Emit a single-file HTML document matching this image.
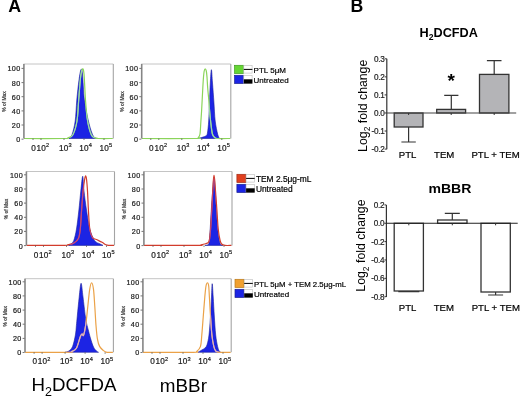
<!DOCTYPE html>
<html><head><meta charset="utf-8"><style>
html,body{margin:0;padding:0;background:#fff;width:520px;height:400px;overflow:hidden;position:relative}
</style></head><body>
<svg width="520" height="400" viewBox="0 0 520 400" style="position:absolute;left:0;top:0;will-change:transform">
<g font-family='"Liberation Sans", sans-serif'>
<text x="8.2" y="12.1" font-size="17.8" font-weight="bold" text-anchor="start" fill="#000" >A</text>
<text x="350.6" y="12.2" font-size="17.7" font-weight="bold" text-anchor="start" fill="#000" >B</text>
<clipPath id="c1"><path d="M69.00,138.50 C69.50,137.87 70.97,137.62 72.00,134.70 C73.03,131.78 74.40,126.78 75.20,121.00 C76.00,115.22 76.17,106.83 76.80,100.00 C77.43,93.17 78.30,85.08 79.00,80.00 C79.70,74.92 80.42,70.50 81.00,69.50 C81.58,68.50 81.93,68.92 82.50,74.00 C83.07,79.08 83.42,92.17 84.40,100.00 C85.38,107.83 87.03,115.22 88.40,121.00 C89.77,126.78 91.33,131.78 92.60,134.70 C93.87,137.62 95.43,137.87 96.00,138.50 Z"/></clipPath>
<path d="M69.00,138.50 C69.50,137.87 70.97,137.62 72.00,134.70 C73.03,131.78 74.40,126.78 75.20,121.00 C76.00,115.22 76.17,106.83 76.80,100.00 C77.43,93.17 78.30,85.08 79.00,80.00 C79.70,74.92 80.42,70.50 81.00,69.50 C81.58,68.50 81.93,68.92 82.50,74.00 C83.07,79.08 83.42,92.17 84.40,100.00 C85.38,107.83 87.03,115.22 88.40,121.00 C89.77,126.78 91.33,131.78 92.60,134.70 C93.87,137.62 95.43,137.87 96.00,138.50 Z" fill="#1c24e4" stroke="#1a1f9a" stroke-width="0.6"/>
<path d="M24.00,138.50 C30.67,138.50 56.67,138.62 64.00,138.50 C71.33,138.38 66.52,138.43 68.00,137.80 C69.48,137.17 71.40,137.50 72.90,134.70 C74.40,131.90 76.03,126.78 77.00,121.00 C77.97,115.22 78.12,107.17 78.70,100.00 C79.28,92.83 79.88,83.17 80.50,78.00 C81.12,72.83 81.82,69.67 82.40,69.00 C82.98,68.33 83.48,68.83 84.00,74.00 C84.52,79.17 84.90,92.17 85.50,100.00 C86.10,107.83 86.63,115.22 87.60,121.00 C88.57,126.78 90.07,131.90 91.30,134.70 C92.53,137.50 93.72,137.17 95.00,137.80 C96.28,138.43 96.03,138.38 99.00,138.50 C101.97,138.62 110.50,138.50 112.80,138.50" fill="none" stroke="#8bd45a" stroke-width="1.2" stroke-linejoin="round"/>
<path d="M24.00,138.50 C30.67,138.50 56.67,138.62 64.00,138.50 C71.33,138.38 66.52,138.43 68.00,137.80 C69.48,137.17 71.40,137.50 72.90,134.70 C74.40,131.90 76.03,126.78 77.00,121.00 C77.97,115.22 78.12,107.17 78.70,100.00 C79.28,92.83 79.88,83.17 80.50,78.00 C81.12,72.83 81.82,69.67 82.40,69.00 C82.98,68.33 83.48,68.83 84.00,74.00 C84.52,79.17 84.90,92.17 85.50,100.00 C86.10,107.83 86.63,115.22 87.60,121.00 C88.57,126.78 90.07,131.90 91.30,134.70 C92.53,137.50 93.72,137.17 95.00,137.80 C96.28,138.43 96.03,138.38 99.00,138.50 C101.97,138.62 110.50,138.50 112.80,138.50" fill="none" stroke="#9ad8b0" stroke-width="1.2" stroke-linejoin="round" clip-path="url(#c1)"/>
<path d="M23.5,64H113.3" fill="none" stroke="#c4c4c4" stroke-width="1"/>
<path d="M113.3,64V138.5" fill="none" stroke="#a4a4a4" stroke-width="1.1"/>
<path d="M23.9,64V138.5" fill="none" stroke="#858585" stroke-width="1.6"/>
<path d="M21.5,68.4H23.5" stroke="#555" stroke-width="0.8"/>
<text x="20.5" y="71.3" font-size="7.2" font-weight="normal" text-anchor="end" fill="#1a1a1a" letter-spacing="0.35" stroke="#1a1a1a" stroke-width="0.2">100</text>
<path d="M21.5,82.6H23.5" stroke="#555" stroke-width="0.8"/>
<text x="20.5" y="85.5" font-size="7.2" font-weight="normal" text-anchor="end" fill="#1a1a1a" letter-spacing="0.35" stroke="#1a1a1a" stroke-width="0.2">80</text>
<path d="M21.5,96.7H23.5" stroke="#555" stroke-width="0.8"/>
<text x="20.5" y="99.6" font-size="7.2" font-weight="normal" text-anchor="end" fill="#1a1a1a" letter-spacing="0.35" stroke="#1a1a1a" stroke-width="0.2">60</text>
<path d="M21.5,110.9H23.5" stroke="#555" stroke-width="0.8"/>
<text x="20.5" y="113.8" font-size="7.2" font-weight="normal" text-anchor="end" fill="#1a1a1a" letter-spacing="0.35" stroke="#1a1a1a" stroke-width="0.2">40</text>
<path d="M21.5,125.0H23.5" stroke="#555" stroke-width="0.8"/>
<text x="20.5" y="127.9" font-size="7.2" font-weight="normal" text-anchor="end" fill="#1a1a1a" letter-spacing="0.35" stroke="#1a1a1a" stroke-width="0.2">20</text>
<path d="M21.5,139.2H23.5" stroke="#555" stroke-width="0.8"/>
<text x="20.5" y="142.1" font-size="7.2" font-weight="normal" text-anchor="end" fill="#1a1a1a" letter-spacing="0.35" stroke="#1a1a1a" stroke-width="0.2">0</text>
<text x="0" y="0" font-size="5.6" fill="#333" stroke="#333" stroke-width="0.2" text-anchor="middle" textLength="20.4" lengthAdjust="spacingAndGlyphs" transform="translate(5.8,101.5) rotate(-90)">% of Max</text>
<text x="31.3" y="150.6" font-size="8.2" font-weight="normal" text-anchor="start" fill="#1a1a1a"  stroke="#1a1a1a" stroke-width="0.2">0</text>
<text x="36.6" y="150.6" font-size="8.2" font-weight="normal" text-anchor="start" fill="#1a1a1a" letter-spacing="0.2" stroke="#1a1a1a" stroke-width="0.2">10</text>
<text x="46.1" y="147.2" font-size="5.6" font-weight="normal" text-anchor="start" fill="#1a1a1a"  stroke="#1a1a1a" stroke-width="0.2">2</text>
<text x="59.0" y="150.6" font-size="8.2" font-weight="normal" text-anchor="start" fill="#1a1a1a" letter-spacing="0.2" stroke="#1a1a1a" stroke-width="0.2">10</text>
<text x="68.5" y="147.2" font-size="5.6" font-weight="normal" text-anchor="start" fill="#1a1a1a"  stroke="#1a1a1a" stroke-width="0.2">3</text>
<text x="79.2" y="150.6" font-size="8.2" font-weight="normal" text-anchor="start" fill="#1a1a1a" letter-spacing="0.2" stroke="#1a1a1a" stroke-width="0.2">10</text>
<text x="88.7" y="147.2" font-size="5.6" font-weight="normal" text-anchor="start" fill="#1a1a1a"  stroke="#1a1a1a" stroke-width="0.2">4</text>
<text x="99.4" y="150.6" font-size="8.2" font-weight="normal" text-anchor="start" fill="#1a1a1a" letter-spacing="0.2" stroke="#1a1a1a" stroke-width="0.2">10</text>
<text x="108.9" y="147.2" font-size="5.6" font-weight="normal" text-anchor="start" fill="#1a1a1a"  stroke="#1a1a1a" stroke-width="0.2">5</text>
<path d="M33.0,138.5v1.5" stroke="#555" stroke-width="0.8"/>
<path d="M41.0,138.5v1.5" stroke="#555" stroke-width="0.8"/>
<path d="M64.0,138.5v1.5" stroke="#555" stroke-width="0.8"/>
<path d="M84.0,138.5v1.5" stroke="#555" stroke-width="0.8"/>
<path d="M104.0,138.5v1.5" stroke="#555" stroke-width="0.8"/>
<clipPath id="c2"><path d="M198.00,138.50 C198.33,138.40 199.17,138.13 200.00,137.90 C200.83,137.67 202.00,137.45 203.00,137.10 C204.00,136.75 205.27,136.45 206.00,135.80 C206.73,135.15 206.95,135.67 207.40,133.20 C207.85,130.73 208.35,126.20 208.70,121.00 C209.05,115.80 209.23,108.33 209.50,102.00 C209.77,95.67 209.98,88.38 210.30,83.00 C210.62,77.62 211.03,69.70 211.40,69.70 C211.77,69.70 212.08,77.62 212.50,83.00 C212.92,88.38 213.45,95.67 213.90,102.00 C214.35,108.33 214.57,115.62 215.20,121.00 C215.83,126.38 216.98,131.38 217.70,134.30 C218.42,137.22 219.20,137.80 219.50,138.50 Z"/></clipPath>
<path d="M198.00,138.50 C198.33,138.40 199.17,138.13 200.00,137.90 C200.83,137.67 202.00,137.45 203.00,137.10 C204.00,136.75 205.27,136.45 206.00,135.80 C206.73,135.15 206.95,135.67 207.40,133.20 C207.85,130.73 208.35,126.20 208.70,121.00 C209.05,115.80 209.23,108.33 209.50,102.00 C209.77,95.67 209.98,88.38 210.30,83.00 C210.62,77.62 211.03,69.70 211.40,69.70 C211.77,69.70 212.08,77.62 212.50,83.00 C212.92,88.38 213.45,95.67 213.90,102.00 C214.35,108.33 214.57,115.62 215.20,121.00 C215.83,126.38 216.98,131.38 217.70,134.30 C218.42,137.22 219.20,137.80 219.50,138.50 Z" fill="#1c24e4" stroke="#1a1f9a" stroke-width="0.6"/>
<path d="M141.80,138.50 C150.75,138.50 186.10,138.65 195.50,138.50 C204.90,138.35 197.45,138.35 198.20,137.60 C198.95,136.85 199.55,136.77 200.00,134.00 C200.45,131.23 200.63,124.87 200.90,121.00 C201.17,117.13 201.28,116.30 201.60,110.80 C201.92,105.30 202.48,93.63 202.80,88.00 C203.12,82.37 203.27,79.83 203.50,77.00 C203.73,74.17 203.92,72.37 204.20,71.00 C204.48,69.63 204.85,68.80 205.20,68.80 C205.55,68.80 206.00,69.63 206.30,71.00 C206.60,72.37 206.77,74.17 207.00,77.00 C207.23,79.83 207.40,84.17 207.70,88.00 C208.00,91.83 208.48,96.20 208.80,100.00 C209.12,103.80 209.30,107.30 209.60,110.80 C209.90,114.30 210.13,117.13 210.60,121.00 C211.07,124.87 211.67,131.23 212.40,134.00 C213.13,136.77 214.15,136.85 215.00,137.60 C215.85,138.35 214.95,138.35 217.50,138.50 C220.05,138.65 228.17,138.50 230.30,138.50" fill="none" stroke="#8bd45a" stroke-width="1.2" stroke-linejoin="round"/>
<path d="M141.80,138.50 C150.75,138.50 186.10,138.65 195.50,138.50 C204.90,138.35 197.45,138.35 198.20,137.60 C198.95,136.85 199.55,136.77 200.00,134.00 C200.45,131.23 200.63,124.87 200.90,121.00 C201.17,117.13 201.28,116.30 201.60,110.80 C201.92,105.30 202.48,93.63 202.80,88.00 C203.12,82.37 203.27,79.83 203.50,77.00 C203.73,74.17 203.92,72.37 204.20,71.00 C204.48,69.63 204.85,68.80 205.20,68.80 C205.55,68.80 206.00,69.63 206.30,71.00 C206.60,72.37 206.77,74.17 207.00,77.00 C207.23,79.83 207.40,84.17 207.70,88.00 C208.00,91.83 208.48,96.20 208.80,100.00 C209.12,103.80 209.30,107.30 209.60,110.80 C209.90,114.30 210.13,117.13 210.60,121.00 C211.07,124.87 211.67,131.23 212.40,134.00 C213.13,136.77 214.15,136.85 215.00,137.60 C215.85,138.35 214.95,138.35 217.50,138.50 C220.05,138.65 228.17,138.50 230.30,138.50" fill="none" stroke="#9ad8b0" stroke-width="1.2" stroke-linejoin="round" clip-path="url(#c2)"/>
<path d="M141.3,64H230.8" fill="none" stroke="#c4c4c4" stroke-width="1"/>
<path d="M230.8,64V138.5" fill="none" stroke="#a4a4a4" stroke-width="1.1"/>
<path d="M141.70000000000002,64V138.5" fill="none" stroke="#858585" stroke-width="1.6"/>
<path d="M139.3,68.4H141.3" stroke="#555" stroke-width="0.8"/>
<text x="138.3" y="71.3" font-size="7.2" font-weight="normal" text-anchor="end" fill="#1a1a1a" letter-spacing="0.35" stroke="#1a1a1a" stroke-width="0.2">100</text>
<path d="M139.3,82.6H141.3" stroke="#555" stroke-width="0.8"/>
<text x="138.3" y="85.5" font-size="7.2" font-weight="normal" text-anchor="end" fill="#1a1a1a" letter-spacing="0.35" stroke="#1a1a1a" stroke-width="0.2">80</text>
<path d="M139.3,96.7H141.3" stroke="#555" stroke-width="0.8"/>
<text x="138.3" y="99.6" font-size="7.2" font-weight="normal" text-anchor="end" fill="#1a1a1a" letter-spacing="0.35" stroke="#1a1a1a" stroke-width="0.2">60</text>
<path d="M139.3,110.9H141.3" stroke="#555" stroke-width="0.8"/>
<text x="138.3" y="113.8" font-size="7.2" font-weight="normal" text-anchor="end" fill="#1a1a1a" letter-spacing="0.35" stroke="#1a1a1a" stroke-width="0.2">40</text>
<path d="M139.3,125.0H141.3" stroke="#555" stroke-width="0.8"/>
<text x="138.3" y="127.9" font-size="7.2" font-weight="normal" text-anchor="end" fill="#1a1a1a" letter-spacing="0.35" stroke="#1a1a1a" stroke-width="0.2">20</text>
<path d="M139.3,139.2H141.3" stroke="#555" stroke-width="0.8"/>
<text x="138.3" y="142.1" font-size="7.2" font-weight="normal" text-anchor="end" fill="#1a1a1a" letter-spacing="0.35" stroke="#1a1a1a" stroke-width="0.2">0</text>
<text x="0" y="0" font-size="5.6" fill="#333" stroke="#333" stroke-width="0.2" text-anchor="middle" textLength="20.4" lengthAdjust="spacingAndGlyphs" transform="translate(123.6,101.5) rotate(-90)">% of Max</text>
<text x="149.1" y="150.6" font-size="8.2" font-weight="normal" text-anchor="start" fill="#1a1a1a"  stroke="#1a1a1a" stroke-width="0.2">0</text>
<text x="154.4" y="150.6" font-size="8.2" font-weight="normal" text-anchor="start" fill="#1a1a1a" letter-spacing="0.2" stroke="#1a1a1a" stroke-width="0.2">10</text>
<text x="163.9" y="147.2" font-size="5.6" font-weight="normal" text-anchor="start" fill="#1a1a1a"  stroke="#1a1a1a" stroke-width="0.2">2</text>
<text x="176.8" y="150.6" font-size="8.2" font-weight="normal" text-anchor="start" fill="#1a1a1a" letter-spacing="0.2" stroke="#1a1a1a" stroke-width="0.2">10</text>
<text x="186.3" y="147.2" font-size="5.6" font-weight="normal" text-anchor="start" fill="#1a1a1a"  stroke="#1a1a1a" stroke-width="0.2">3</text>
<text x="197.0" y="150.6" font-size="8.2" font-weight="normal" text-anchor="start" fill="#1a1a1a" letter-spacing="0.2" stroke="#1a1a1a" stroke-width="0.2">10</text>
<text x="206.5" y="147.2" font-size="5.6" font-weight="normal" text-anchor="start" fill="#1a1a1a"  stroke="#1a1a1a" stroke-width="0.2">4</text>
<text x="217.2" y="150.6" font-size="8.2" font-weight="normal" text-anchor="start" fill="#1a1a1a" letter-spacing="0.2" stroke="#1a1a1a" stroke-width="0.2">10</text>
<text x="226.7" y="147.2" font-size="5.6" font-weight="normal" text-anchor="start" fill="#1a1a1a"  stroke="#1a1a1a" stroke-width="0.2">5</text>
<path d="M150.8,138.5v1.5" stroke="#555" stroke-width="0.8"/>
<path d="M158.8,138.5v1.5" stroke="#555" stroke-width="0.8"/>
<path d="M181.8,138.5v1.5" stroke="#555" stroke-width="0.8"/>
<path d="M201.8,138.5v1.5" stroke="#555" stroke-width="0.8"/>
<path d="M221.8,138.5v1.5" stroke="#555" stroke-width="0.8"/>
<rect x="234.60000000000002" y="65.3" width="9" height="8.2" fill="#66d634" stroke="#3c9a1e" stroke-width="0.7"/>
<rect x="243.8" y="65.5" width="8.3" height="7.6" fill="#fff" stroke="#bbb" stroke-width="0.6"/>
<path d="M243.8,69.4h8.6" stroke="#000" stroke-width="1"/>
<rect x="234.60000000000002" y="75.3" width="9" height="8.2" fill="#1c24e4" stroke="#1a2290" stroke-width="0.7"/>
<rect x="243.8" y="75.5" width="8.3" height="7.6" fill="#fff" stroke="#bbb" stroke-width="0.6"/>
<rect x="243.8" y="79.3" width="8.6" height="4.3" fill="#000"/>
<text x="253.6" y="72.6" font-size="8" font-weight="normal" text-anchor="start" fill="#000"  stroke="#000" stroke-width="0.2">PTL 5μM</text>
<text x="253.6" y="82.8" font-size="8" font-weight="normal" text-anchor="start" fill="#000"  stroke="#000" stroke-width="0.2">Untreated</text>
<clipPath id="c3"><path d="M68.50,245.40 C68.92,245.17 70.12,244.83 71.00,244.00 C71.88,243.17 72.88,242.90 73.80,240.40 C74.72,237.90 75.65,234.07 76.50,229.00 C77.35,223.93 78.18,216.33 78.90,210.00 C79.62,203.67 80.17,196.63 80.80,191.00 C81.43,185.37 82.17,176.20 82.70,176.20 C83.23,176.20 83.37,185.37 84.00,191.00 C84.63,196.63 85.53,203.67 86.50,210.00 C87.47,216.33 88.47,223.93 89.80,229.00 C91.13,234.07 92.77,237.90 94.50,240.40 C96.23,242.90 98.78,243.17 100.20,244.00 C101.62,244.83 102.53,245.17 103.00,245.40 Z"/></clipPath>
<path d="M68.50,245.40 C68.92,245.17 70.12,244.83 71.00,244.00 C71.88,243.17 72.88,242.90 73.80,240.40 C74.72,237.90 75.65,234.07 76.50,229.00 C77.35,223.93 78.18,216.33 78.90,210.00 C79.62,203.67 80.17,196.63 80.80,191.00 C81.43,185.37 82.17,176.20 82.70,176.20 C83.23,176.20 83.37,185.37 84.00,191.00 C84.63,196.63 85.53,203.67 86.50,210.00 C87.47,216.33 88.47,223.93 89.80,229.00 C91.13,234.07 92.77,237.90 94.50,240.40 C96.23,242.90 98.78,243.17 100.20,244.00 C101.62,244.83 102.53,245.17 103.00,245.40 Z" fill="#1c24e4" stroke="#1a1f9a" stroke-width="0.6"/>
<path d="M26.50,245.40 C32.75,245.40 57.08,245.53 64.00,245.40 C70.92,245.27 66.40,244.95 68.00,244.60 C69.60,244.25 71.87,244.32 73.60,243.30 C75.33,242.28 77.28,240.88 78.40,238.50 C79.52,236.12 79.77,233.75 80.30,229.00 C80.83,224.25 81.13,216.33 81.60,210.00 C82.07,203.67 82.58,196.17 83.10,191.00 C83.62,185.83 84.28,181.53 84.70,179.00 C85.12,176.47 85.30,175.80 85.60,175.80 C85.90,175.80 86.18,176.47 86.50,179.00 C86.82,181.53 87.18,185.83 87.50,191.00 C87.82,196.17 88.02,203.67 88.40,210.00 C88.78,216.33 89.10,224.40 89.80,229.00 C90.50,233.60 91.50,235.85 92.60,237.60 C93.70,239.35 94.82,238.72 96.40,239.50 C97.98,240.28 100.50,241.42 102.10,242.30 C103.70,243.18 104.85,244.28 106.00,244.80 C107.15,245.32 107.67,245.30 109.00,245.40 C110.33,245.50 113.17,245.40 114.00,245.40" fill="none" stroke="#d23c2c" stroke-width="1.2" stroke-linejoin="round"/>
<path d="M26.50,245.40 C32.75,245.40 57.08,245.53 64.00,245.40 C70.92,245.27 66.40,244.95 68.00,244.60 C69.60,244.25 71.87,244.32 73.60,243.30 C75.33,242.28 77.28,240.88 78.40,238.50 C79.52,236.12 79.77,233.75 80.30,229.00 C80.83,224.25 81.13,216.33 81.60,210.00 C82.07,203.67 82.58,196.17 83.10,191.00 C83.62,185.83 84.28,181.53 84.70,179.00 C85.12,176.47 85.30,175.80 85.60,175.80 C85.90,175.80 86.18,176.47 86.50,179.00 C86.82,181.53 87.18,185.83 87.50,191.00 C87.82,196.17 88.02,203.67 88.40,210.00 C88.78,216.33 89.10,224.40 89.80,229.00 C90.50,233.60 91.50,235.85 92.60,237.60 C93.70,239.35 94.82,238.72 96.40,239.50 C97.98,240.28 100.50,241.42 102.10,242.30 C103.70,243.18 104.85,244.28 106.00,244.80 C107.15,245.32 107.67,245.30 109.00,245.40 C110.33,245.50 113.17,245.40 114.00,245.40" fill="none" stroke="#c04a8a" stroke-width="1.2" stroke-linejoin="round" clip-path="url(#c3)"/>
<path d="M26.0,171.5H114.5" fill="none" stroke="#c4c4c4" stroke-width="1"/>
<path d="M114.5,171.5V245.4" fill="none" stroke="#a4a4a4" stroke-width="1.1"/>
<path d="M26.4,171.5V245.4" fill="none" stroke="#858585" stroke-width="1.6"/>
<path d="M24.0,174.8H26.0" stroke="#555" stroke-width="0.8"/>
<text x="23.0" y="177.7" font-size="7.2" font-weight="normal" text-anchor="end" fill="#1a1a1a" letter-spacing="0.35" stroke="#1a1a1a" stroke-width="0.2">100</text>
<path d="M24.0,189.0H26.0" stroke="#555" stroke-width="0.8"/>
<text x="23.0" y="191.9" font-size="7.2" font-weight="normal" text-anchor="end" fill="#1a1a1a" letter-spacing="0.35" stroke="#1a1a1a" stroke-width="0.2">80</text>
<path d="M24.0,203.1H26.0" stroke="#555" stroke-width="0.8"/>
<text x="23.0" y="206.0" font-size="7.2" font-weight="normal" text-anchor="end" fill="#1a1a1a" letter-spacing="0.35" stroke="#1a1a1a" stroke-width="0.2">60</text>
<path d="M24.0,217.3H26.0" stroke="#555" stroke-width="0.8"/>
<text x="23.0" y="220.2" font-size="7.2" font-weight="normal" text-anchor="end" fill="#1a1a1a" letter-spacing="0.35" stroke="#1a1a1a" stroke-width="0.2">40</text>
<path d="M24.0,231.4H26.0" stroke="#555" stroke-width="0.8"/>
<text x="23.0" y="234.3" font-size="7.2" font-weight="normal" text-anchor="end" fill="#1a1a1a" letter-spacing="0.35" stroke="#1a1a1a" stroke-width="0.2">20</text>
<path d="M24.0,245.6H26.0" stroke="#555" stroke-width="0.8"/>
<text x="23.0" y="248.5" font-size="7.2" font-weight="normal" text-anchor="end" fill="#1a1a1a" letter-spacing="0.35" stroke="#1a1a1a" stroke-width="0.2">0</text>
<text x="0" y="0" font-size="5.6" fill="#333" stroke="#333" stroke-width="0.2" text-anchor="middle" textLength="20.4" lengthAdjust="spacingAndGlyphs" transform="translate(8.3,209.0) rotate(-90)">% of Max</text>
<text x="33.8" y="257.5" font-size="8.2" font-weight="normal" text-anchor="start" fill="#1a1a1a"  stroke="#1a1a1a" stroke-width="0.2">0</text>
<text x="39.1" y="257.5" font-size="8.2" font-weight="normal" text-anchor="start" fill="#1a1a1a" letter-spacing="0.2" stroke="#1a1a1a" stroke-width="0.2">10</text>
<text x="48.6" y="254.1" font-size="5.6" font-weight="normal" text-anchor="start" fill="#1a1a1a"  stroke="#1a1a1a" stroke-width="0.2">2</text>
<text x="61.5" y="257.5" font-size="8.2" font-weight="normal" text-anchor="start" fill="#1a1a1a" letter-spacing="0.2" stroke="#1a1a1a" stroke-width="0.2">10</text>
<text x="71.0" y="254.1" font-size="5.6" font-weight="normal" text-anchor="start" fill="#1a1a1a"  stroke="#1a1a1a" stroke-width="0.2">3</text>
<text x="81.7" y="257.5" font-size="8.2" font-weight="normal" text-anchor="start" fill="#1a1a1a" letter-spacing="0.2" stroke="#1a1a1a" stroke-width="0.2">10</text>
<text x="91.2" y="254.1" font-size="5.6" font-weight="normal" text-anchor="start" fill="#1a1a1a"  stroke="#1a1a1a" stroke-width="0.2">4</text>
<text x="101.9" y="257.5" font-size="8.2" font-weight="normal" text-anchor="start" fill="#1a1a1a" letter-spacing="0.2" stroke="#1a1a1a" stroke-width="0.2">10</text>
<text x="111.4" y="254.1" font-size="5.6" font-weight="normal" text-anchor="start" fill="#1a1a1a"  stroke="#1a1a1a" stroke-width="0.2">5</text>
<path d="M35.5,245.4v1.5" stroke="#555" stroke-width="0.8"/>
<path d="M43.5,245.4v1.5" stroke="#555" stroke-width="0.8"/>
<path d="M66.5,245.4v1.5" stroke="#555" stroke-width="0.8"/>
<path d="M86.5,245.4v1.5" stroke="#555" stroke-width="0.8"/>
<path d="M106.5,245.4v1.5" stroke="#555" stroke-width="0.8"/>
<clipPath id="c4"><path d="M205.00,245.40 C205.55,245.25 207.58,245.33 208.30,244.50 C209.02,243.67 208.98,242.98 209.30,240.40 C209.62,237.82 209.87,234.07 210.20,229.00 C210.53,223.93 210.88,216.33 211.30,210.00 C211.72,203.67 212.25,196.38 212.70,191.00 C213.15,185.62 213.57,177.70 214.00,177.70 C214.43,177.70 214.92,185.62 215.30,191.00 C215.68,196.38 215.88,203.67 216.30,210.00 C216.72,216.33 217.30,223.93 217.80,229.00 C218.30,234.07 218.82,237.82 219.30,240.40 C219.78,242.98 220.08,243.67 220.70,244.50 C221.32,245.33 222.62,245.25 223.00,245.40 Z"/></clipPath>
<path d="M205.00,245.40 C205.55,245.25 207.58,245.33 208.30,244.50 C209.02,243.67 208.98,242.98 209.30,240.40 C209.62,237.82 209.87,234.07 210.20,229.00 C210.53,223.93 210.88,216.33 211.30,210.00 C211.72,203.67 212.25,196.38 212.70,191.00 C213.15,185.62 213.57,177.70 214.00,177.70 C214.43,177.70 214.92,185.62 215.30,191.00 C215.68,196.38 215.88,203.67 216.30,210.00 C216.72,216.33 217.30,223.93 217.80,229.00 C218.30,234.07 218.82,237.82 219.30,240.40 C219.78,242.98 220.08,243.67 220.70,244.50 C221.32,245.33 222.62,245.25 223.00,245.40 Z" fill="#1c24e4" stroke="#1a1f9a" stroke-width="0.6"/>
<path d="M144.00,245.40 C152.83,245.40 187.50,245.48 197.00,245.40 C206.50,245.32 199.75,245.13 201.00,244.90 C202.25,244.67 203.42,244.32 204.50,244.00 C205.58,243.68 206.70,243.60 207.50,243.00 C208.30,242.40 208.78,242.73 209.30,240.40 C209.82,238.07 210.20,234.07 210.60,229.00 C211.00,223.93 211.35,216.33 211.70,210.00 C212.05,203.67 212.42,196.00 212.70,191.00 C212.98,186.00 213.18,182.60 213.40,180.00 C213.62,177.40 213.78,175.40 214.00,175.40 C214.22,175.40 214.45,177.40 214.70,180.00 C214.95,182.60 215.13,186.00 215.50,191.00 C215.87,196.00 216.45,203.67 216.90,210.00 C217.35,216.33 217.67,223.93 218.20,229.00 C218.73,234.07 219.53,237.90 220.10,240.40 C220.67,242.90 220.78,243.17 221.60,244.00 C222.42,244.83 223.35,245.17 225.00,245.40 C226.65,245.63 230.42,245.40 231.50,245.40" fill="none" stroke="#d23c2c" stroke-width="1.2" stroke-linejoin="round"/>
<path d="M144.00,245.40 C152.83,245.40 187.50,245.48 197.00,245.40 C206.50,245.32 199.75,245.13 201.00,244.90 C202.25,244.67 203.42,244.32 204.50,244.00 C205.58,243.68 206.70,243.60 207.50,243.00 C208.30,242.40 208.78,242.73 209.30,240.40 C209.82,238.07 210.20,234.07 210.60,229.00 C211.00,223.93 211.35,216.33 211.70,210.00 C212.05,203.67 212.42,196.00 212.70,191.00 C212.98,186.00 213.18,182.60 213.40,180.00 C213.62,177.40 213.78,175.40 214.00,175.40 C214.22,175.40 214.45,177.40 214.70,180.00 C214.95,182.60 215.13,186.00 215.50,191.00 C215.87,196.00 216.45,203.67 216.90,210.00 C217.35,216.33 217.67,223.93 218.20,229.00 C218.73,234.07 219.53,237.90 220.10,240.40 C220.67,242.90 220.78,243.17 221.60,244.00 C222.42,244.83 223.35,245.17 225.00,245.40 C226.65,245.63 230.42,245.40 231.50,245.40" fill="none" stroke="#c04a8a" stroke-width="1.2" stroke-linejoin="round" clip-path="url(#c4)"/>
<path d="M143.5,171.5H232.0" fill="none" stroke="#c4c4c4" stroke-width="1"/>
<path d="M232.0,171.5V245.4" fill="none" stroke="#a4a4a4" stroke-width="1.1"/>
<path d="M143.9,171.5V245.4" fill="none" stroke="#858585" stroke-width="1.6"/>
<path d="M141.5,174.8H143.5" stroke="#555" stroke-width="0.8"/>
<text x="140.5" y="177.7" font-size="7.2" font-weight="normal" text-anchor="end" fill="#1a1a1a" letter-spacing="0.35" stroke="#1a1a1a" stroke-width="0.2">100</text>
<path d="M141.5,189.0H143.5" stroke="#555" stroke-width="0.8"/>
<text x="140.5" y="191.9" font-size="7.2" font-weight="normal" text-anchor="end" fill="#1a1a1a" letter-spacing="0.35" stroke="#1a1a1a" stroke-width="0.2">80</text>
<path d="M141.5,203.1H143.5" stroke="#555" stroke-width="0.8"/>
<text x="140.5" y="206.0" font-size="7.2" font-weight="normal" text-anchor="end" fill="#1a1a1a" letter-spacing="0.35" stroke="#1a1a1a" stroke-width="0.2">60</text>
<path d="M141.5,217.3H143.5" stroke="#555" stroke-width="0.8"/>
<text x="140.5" y="220.2" font-size="7.2" font-weight="normal" text-anchor="end" fill="#1a1a1a" letter-spacing="0.35" stroke="#1a1a1a" stroke-width="0.2">40</text>
<path d="M141.5,231.4H143.5" stroke="#555" stroke-width="0.8"/>
<text x="140.5" y="234.3" font-size="7.2" font-weight="normal" text-anchor="end" fill="#1a1a1a" letter-spacing="0.35" stroke="#1a1a1a" stroke-width="0.2">20</text>
<path d="M141.5,245.6H143.5" stroke="#555" stroke-width="0.8"/>
<text x="140.5" y="248.5" font-size="7.2" font-weight="normal" text-anchor="end" fill="#1a1a1a" letter-spacing="0.35" stroke="#1a1a1a" stroke-width="0.2">0</text>
<text x="0" y="0" font-size="5.6" fill="#333" stroke="#333" stroke-width="0.2" text-anchor="middle" textLength="20.4" lengthAdjust="spacingAndGlyphs" transform="translate(125.8,209.0) rotate(-90)">% of Max</text>
<text x="151.3" y="257.5" font-size="8.2" font-weight="normal" text-anchor="start" fill="#1a1a1a"  stroke="#1a1a1a" stroke-width="0.2">0</text>
<text x="156.6" y="257.5" font-size="8.2" font-weight="normal" text-anchor="start" fill="#1a1a1a" letter-spacing="0.2" stroke="#1a1a1a" stroke-width="0.2">10</text>
<text x="166.1" y="254.1" font-size="5.6" font-weight="normal" text-anchor="start" fill="#1a1a1a"  stroke="#1a1a1a" stroke-width="0.2">2</text>
<text x="179.0" y="257.5" font-size="8.2" font-weight="normal" text-anchor="start" fill="#1a1a1a" letter-spacing="0.2" stroke="#1a1a1a" stroke-width="0.2">10</text>
<text x="188.5" y="254.1" font-size="5.6" font-weight="normal" text-anchor="start" fill="#1a1a1a"  stroke="#1a1a1a" stroke-width="0.2">3</text>
<text x="199.2" y="257.5" font-size="8.2" font-weight="normal" text-anchor="start" fill="#1a1a1a" letter-spacing="0.2" stroke="#1a1a1a" stroke-width="0.2">10</text>
<text x="208.7" y="254.1" font-size="5.6" font-weight="normal" text-anchor="start" fill="#1a1a1a"  stroke="#1a1a1a" stroke-width="0.2">4</text>
<text x="219.4" y="257.5" font-size="8.2" font-weight="normal" text-anchor="start" fill="#1a1a1a" letter-spacing="0.2" stroke="#1a1a1a" stroke-width="0.2">10</text>
<text x="228.9" y="254.1" font-size="5.6" font-weight="normal" text-anchor="start" fill="#1a1a1a"  stroke="#1a1a1a" stroke-width="0.2">5</text>
<path d="M153.0,245.4v1.5" stroke="#555" stroke-width="0.8"/>
<path d="M161.0,245.4v1.5" stroke="#555" stroke-width="0.8"/>
<path d="M184.0,245.4v1.5" stroke="#555" stroke-width="0.8"/>
<path d="M204.0,245.4v1.5" stroke="#555" stroke-width="0.8"/>
<path d="M224.0,245.4v1.5" stroke="#555" stroke-width="0.8"/>
<rect x="236.9" y="174.3" width="9" height="8.2" fill="#e0401e" stroke="#a02a14" stroke-width="0.7"/>
<rect x="246.1" y="174.5" width="8.3" height="7.6" fill="#fff" stroke="#bbb" stroke-width="0.6"/>
<path d="M246.1,178.4h8.6" stroke="#000" stroke-width="1"/>
<rect x="236.9" y="184.3" width="9" height="8.2" fill="#1c24e4" stroke="#1a2290" stroke-width="0.7"/>
<rect x="246.1" y="184.5" width="8.3" height="7.6" fill="#fff" stroke="#bbb" stroke-width="0.6"/>
<rect x="246.1" y="188.3" width="8.6" height="4.3" fill="#000"/>
<text x="255.9" y="181.6" font-size="8.4" font-weight="normal" text-anchor="start" fill="#000"  stroke="#000" stroke-width="0.2">TEM 2.5μg-mL</text>
<text x="255.9" y="191.8" font-size="8.4" font-weight="normal" text-anchor="start" fill="#000"  stroke="#000" stroke-width="0.2">Untreated</text>
<clipPath id="c5"><path d="M65.00,352.30 C65.63,352.08 67.53,351.98 68.80,351.00 C70.07,350.02 71.50,349.07 72.60,346.40 C73.70,343.73 74.77,338.48 75.40,335.00 C76.03,331.52 76.08,328.67 76.40,325.50 C76.72,322.33 76.83,320.75 77.30,316.00 C77.77,311.25 78.57,302.45 79.20,297.00 C79.83,291.55 80.47,283.30 81.10,283.30 C81.73,283.30 82.30,291.55 83.00,297.00 C83.70,302.45 84.72,311.67 85.30,316.00 C85.88,320.33 86.13,321.17 86.50,323.00 C86.87,324.83 87.20,325.83 87.50,327.00 C87.80,328.17 87.82,328.17 88.30,330.00 C88.78,331.83 89.53,335.17 90.40,338.00 C91.27,340.83 92.48,344.83 93.50,347.00 C94.52,349.17 95.67,350.12 96.50,351.00 C97.33,351.88 98.17,352.08 98.50,352.30 Z"/></clipPath>
<path d="M65.00,352.30 C65.63,352.08 67.53,351.98 68.80,351.00 C70.07,350.02 71.50,349.07 72.60,346.40 C73.70,343.73 74.77,338.48 75.40,335.00 C76.03,331.52 76.08,328.67 76.40,325.50 C76.72,322.33 76.83,320.75 77.30,316.00 C77.77,311.25 78.57,302.45 79.20,297.00 C79.83,291.55 80.47,283.30 81.10,283.30 C81.73,283.30 82.30,291.55 83.00,297.00 C83.70,302.45 84.72,311.67 85.30,316.00 C85.88,320.33 86.13,321.17 86.50,323.00 C86.87,324.83 87.20,325.83 87.50,327.00 C87.80,328.17 87.82,328.17 88.30,330.00 C88.78,331.83 89.53,335.17 90.40,338.00 C91.27,340.83 92.48,344.83 93.50,347.00 C94.52,349.17 95.67,350.12 96.50,351.00 C97.33,351.88 98.17,352.08 98.50,352.30 Z" fill="#1c24e4" stroke="#1a1f9a" stroke-width="0.6"/>
<path d="M25.10,352.30 C32.25,352.30 60.25,352.43 68.00,352.30 C75.75,352.17 70.20,352.17 71.60,351.50 C73.00,350.83 74.97,350.72 76.40,348.30 C77.83,345.88 79.27,339.38 80.20,337.00 C81.13,334.62 81.43,334.33 82.00,334.00 C82.57,333.67 82.95,336.73 83.60,335.00 C84.25,333.27 85.20,328.35 85.90,323.60 C86.60,318.85 87.17,312.20 87.80,306.50 C88.43,300.80 89.07,293.36 89.70,289.40 C90.33,285.44 90.97,282.75 91.60,282.75 C92.23,282.75 92.97,285.44 93.50,289.40 C94.03,293.36 94.38,300.48 94.80,306.50 C95.22,312.52 95.57,320.12 96.00,325.50 C96.43,330.88 96.80,335.32 97.40,338.80 C98.00,342.28 98.58,344.43 99.60,346.40 C100.62,348.37 102.27,349.62 103.50,350.60 C104.73,351.58 105.43,352.02 107.00,352.30 C108.57,352.58 111.92,352.30 112.90,352.30" fill="none" stroke="#eba248" stroke-width="1.2" stroke-linejoin="round"/>
<path d="M25.10,352.30 C32.25,352.30 60.25,352.43 68.00,352.30 C75.75,352.17 70.20,352.17 71.60,351.50 C73.00,350.83 74.97,350.72 76.40,348.30 C77.83,345.88 79.27,339.38 80.20,337.00 C81.13,334.62 81.43,334.33 82.00,334.00 C82.57,333.67 82.95,336.73 83.60,335.00 C84.25,333.27 85.20,328.35 85.90,323.60 C86.60,318.85 87.17,312.20 87.80,306.50 C88.43,300.80 89.07,293.36 89.70,289.40 C90.33,285.44 90.97,282.75 91.60,282.75 C92.23,282.75 92.97,285.44 93.50,289.40 C94.03,293.36 94.38,300.48 94.80,306.50 C95.22,312.52 95.57,320.12 96.00,325.50 C96.43,330.88 96.80,335.32 97.40,338.80 C98.00,342.28 98.58,344.43 99.60,346.40 C100.62,348.37 102.27,349.62 103.50,350.60 C104.73,351.58 105.43,352.02 107.00,352.30 C108.57,352.58 111.92,352.30 112.90,352.30" fill="none" stroke="#d8b0c8" stroke-width="1.2" stroke-linejoin="round" clip-path="url(#c5)"/>
<path d="M24.6,278.7H113.4" fill="none" stroke="#c4c4c4" stroke-width="1"/>
<path d="M113.4,278.7V352.3" fill="none" stroke="#a4a4a4" stroke-width="1.1"/>
<path d="M25.0,278.7V352.3" fill="none" stroke="#858585" stroke-width="1.6"/>
<path d="M22.6,281.8H24.6" stroke="#555" stroke-width="0.8"/>
<text x="21.6" y="284.7" font-size="7.2" font-weight="normal" text-anchor="end" fill="#1a1a1a" letter-spacing="0.35" stroke="#1a1a1a" stroke-width="0.2">100</text>
<path d="M22.6,295.9H24.6" stroke="#555" stroke-width="0.8"/>
<text x="21.6" y="298.8" font-size="7.2" font-weight="normal" text-anchor="end" fill="#1a1a1a" letter-spacing="0.35" stroke="#1a1a1a" stroke-width="0.2">80</text>
<path d="M22.6,310.1H24.6" stroke="#555" stroke-width="0.8"/>
<text x="21.6" y="313.0" font-size="7.2" font-weight="normal" text-anchor="end" fill="#1a1a1a" letter-spacing="0.35" stroke="#1a1a1a" stroke-width="0.2">60</text>
<path d="M22.6,324.2H24.6" stroke="#555" stroke-width="0.8"/>
<text x="21.6" y="327.1" font-size="7.2" font-weight="normal" text-anchor="end" fill="#1a1a1a" letter-spacing="0.35" stroke="#1a1a1a" stroke-width="0.2">40</text>
<path d="M22.6,338.4H24.6" stroke="#555" stroke-width="0.8"/>
<text x="21.6" y="341.3" font-size="7.2" font-weight="normal" text-anchor="end" fill="#1a1a1a" letter-spacing="0.35" stroke="#1a1a1a" stroke-width="0.2">20</text>
<path d="M22.6,352.5H24.6" stroke="#555" stroke-width="0.8"/>
<text x="21.6" y="355.4" font-size="7.2" font-weight="normal" text-anchor="end" fill="#1a1a1a" letter-spacing="0.35" stroke="#1a1a1a" stroke-width="0.2">0</text>
<text x="0" y="0" font-size="5.6" fill="#333" stroke="#333" stroke-width="0.2" text-anchor="middle" textLength="20.4" lengthAdjust="spacingAndGlyphs" transform="translate(6.9,316.2) rotate(-90)">% of Max</text>
<text x="32.4" y="364.4" font-size="8.2" font-weight="normal" text-anchor="start" fill="#1a1a1a"  stroke="#1a1a1a" stroke-width="0.2">0</text>
<text x="37.7" y="364.4" font-size="8.2" font-weight="normal" text-anchor="start" fill="#1a1a1a" letter-spacing="0.2" stroke="#1a1a1a" stroke-width="0.2">10</text>
<text x="47.2" y="361.0" font-size="5.6" font-weight="normal" text-anchor="start" fill="#1a1a1a"  stroke="#1a1a1a" stroke-width="0.2">2</text>
<text x="60.1" y="364.4" font-size="8.2" font-weight="normal" text-anchor="start" fill="#1a1a1a" letter-spacing="0.2" stroke="#1a1a1a" stroke-width="0.2">10</text>
<text x="69.6" y="361.0" font-size="5.6" font-weight="normal" text-anchor="start" fill="#1a1a1a"  stroke="#1a1a1a" stroke-width="0.2">3</text>
<text x="80.3" y="364.4" font-size="8.2" font-weight="normal" text-anchor="start" fill="#1a1a1a" letter-spacing="0.2" stroke="#1a1a1a" stroke-width="0.2">10</text>
<text x="89.8" y="361.0" font-size="5.6" font-weight="normal" text-anchor="start" fill="#1a1a1a"  stroke="#1a1a1a" stroke-width="0.2">4</text>
<text x="100.5" y="364.4" font-size="8.2" font-weight="normal" text-anchor="start" fill="#1a1a1a" letter-spacing="0.2" stroke="#1a1a1a" stroke-width="0.2">10</text>
<text x="110.0" y="361.0" font-size="5.6" font-weight="normal" text-anchor="start" fill="#1a1a1a"  stroke="#1a1a1a" stroke-width="0.2">5</text>
<path d="M34.1,352.3v1.5" stroke="#555" stroke-width="0.8"/>
<path d="M42.1,352.3v1.5" stroke="#555" stroke-width="0.8"/>
<path d="M65.1,352.3v1.5" stroke="#555" stroke-width="0.8"/>
<path d="M85.1,352.3v1.5" stroke="#555" stroke-width="0.8"/>
<path d="M105.1,352.3v1.5" stroke="#555" stroke-width="0.8"/>
<clipPath id="c6"><path d="M198.00,352.30 C198.57,351.95 200.23,350.92 201.40,350.20 C202.57,349.48 204.05,348.95 205.00,348.00 C205.95,347.05 206.43,346.67 207.10,344.50 C207.77,342.33 208.43,339.75 209.00,335.00 C209.57,330.25 210.08,322.33 210.50,316.00 C210.92,309.67 211.22,302.38 211.50,297.00 C211.78,291.62 211.92,283.70 212.20,283.70 C212.48,283.70 212.85,291.62 213.20,297.00 C213.55,302.38 213.88,309.67 214.30,316.00 C214.72,322.33 215.15,329.93 215.70,335.00 C216.25,340.07 216.97,343.65 217.60,346.40 C218.23,349.15 218.93,350.52 219.50,351.50 C220.07,352.48 220.75,352.17 221.00,352.30 Z"/></clipPath>
<path d="M198.00,352.30 C198.57,351.95 200.23,350.92 201.40,350.20 C202.57,349.48 204.05,348.95 205.00,348.00 C205.95,347.05 206.43,346.67 207.10,344.50 C207.77,342.33 208.43,339.75 209.00,335.00 C209.57,330.25 210.08,322.33 210.50,316.00 C210.92,309.67 211.22,302.38 211.50,297.00 C211.78,291.62 211.92,283.70 212.20,283.70 C212.48,283.70 212.85,291.62 213.20,297.00 C213.55,302.38 213.88,309.67 214.30,316.00 C214.72,322.33 215.15,329.93 215.70,335.00 C216.25,340.07 216.97,343.65 217.60,346.40 C218.23,349.15 218.93,350.52 219.50,351.50 C220.07,352.48 220.75,352.17 221.00,352.30 Z" fill="#1c24e4" stroke="#1a1f9a" stroke-width="0.6"/>
<path d="M143.00,352.30 C151.33,352.30 184.05,352.43 193.00,352.30 C201.95,352.17 195.45,352.48 196.70,351.50 C197.95,350.52 199.65,349.15 200.50,346.40 C201.35,343.65 201.33,340.07 201.80,335.00 C202.27,329.93 202.80,322.33 203.30,316.00 C203.80,309.67 204.35,302.00 204.80,297.00 C205.25,292.00 205.55,288.38 206.00,286.00 C206.45,283.62 207.05,282.75 207.50,282.75 C207.95,282.75 208.38,283.62 208.70,286.00 C209.02,288.38 209.10,292.00 209.40,297.00 C209.70,302.00 210.08,309.67 210.50,316.00 C210.92,322.33 211.35,329.93 211.90,335.00 C212.45,340.07 213.17,343.73 213.80,346.40 C214.43,349.07 214.83,350.02 215.70,351.00 C216.57,351.98 216.50,352.08 219.00,352.30 C221.50,352.52 228.75,352.30 230.70,352.30" fill="none" stroke="#eba248" stroke-width="1.2" stroke-linejoin="round"/>
<path d="M143.00,352.30 C151.33,352.30 184.05,352.43 193.00,352.30 C201.95,352.17 195.45,352.48 196.70,351.50 C197.95,350.52 199.65,349.15 200.50,346.40 C201.35,343.65 201.33,340.07 201.80,335.00 C202.27,329.93 202.80,322.33 203.30,316.00 C203.80,309.67 204.35,302.00 204.80,297.00 C205.25,292.00 205.55,288.38 206.00,286.00 C206.45,283.62 207.05,282.75 207.50,282.75 C207.95,282.75 208.38,283.62 208.70,286.00 C209.02,288.38 209.10,292.00 209.40,297.00 C209.70,302.00 210.08,309.67 210.50,316.00 C210.92,322.33 211.35,329.93 211.90,335.00 C212.45,340.07 213.17,343.73 213.80,346.40 C214.43,349.07 214.83,350.02 215.70,351.00 C216.57,351.98 216.50,352.08 219.00,352.30 C221.50,352.52 228.75,352.30 230.70,352.30" fill="none" stroke="#d8b0c8" stroke-width="1.2" stroke-linejoin="round" clip-path="url(#c6)"/>
<path d="M142.5,278.7H231.2" fill="none" stroke="#c4c4c4" stroke-width="1"/>
<path d="M231.2,278.7V352.3" fill="none" stroke="#a4a4a4" stroke-width="1.1"/>
<path d="M142.9,278.7V352.3" fill="none" stroke="#858585" stroke-width="1.6"/>
<path d="M140.5,281.8H142.5" stroke="#555" stroke-width="0.8"/>
<text x="139.5" y="284.7" font-size="7.2" font-weight="normal" text-anchor="end" fill="#1a1a1a" letter-spacing="0.35" stroke="#1a1a1a" stroke-width="0.2">100</text>
<path d="M140.5,295.9H142.5" stroke="#555" stroke-width="0.8"/>
<text x="139.5" y="298.8" font-size="7.2" font-weight="normal" text-anchor="end" fill="#1a1a1a" letter-spacing="0.35" stroke="#1a1a1a" stroke-width="0.2">80</text>
<path d="M140.5,310.1H142.5" stroke="#555" stroke-width="0.8"/>
<text x="139.5" y="313.0" font-size="7.2" font-weight="normal" text-anchor="end" fill="#1a1a1a" letter-spacing="0.35" stroke="#1a1a1a" stroke-width="0.2">60</text>
<path d="M140.5,324.2H142.5" stroke="#555" stroke-width="0.8"/>
<text x="139.5" y="327.1" font-size="7.2" font-weight="normal" text-anchor="end" fill="#1a1a1a" letter-spacing="0.35" stroke="#1a1a1a" stroke-width="0.2">40</text>
<path d="M140.5,338.4H142.5" stroke="#555" stroke-width="0.8"/>
<text x="139.5" y="341.3" font-size="7.2" font-weight="normal" text-anchor="end" fill="#1a1a1a" letter-spacing="0.35" stroke="#1a1a1a" stroke-width="0.2">20</text>
<path d="M140.5,352.5H142.5" stroke="#555" stroke-width="0.8"/>
<text x="139.5" y="355.4" font-size="7.2" font-weight="normal" text-anchor="end" fill="#1a1a1a" letter-spacing="0.35" stroke="#1a1a1a" stroke-width="0.2">0</text>
<text x="0" y="0" font-size="5.6" fill="#333" stroke="#333" stroke-width="0.2" text-anchor="middle" textLength="20.4" lengthAdjust="spacingAndGlyphs" transform="translate(124.8,316.2) rotate(-90)">% of Max</text>
<text x="150.3" y="364.4" font-size="8.2" font-weight="normal" text-anchor="start" fill="#1a1a1a"  stroke="#1a1a1a" stroke-width="0.2">0</text>
<text x="155.6" y="364.4" font-size="8.2" font-weight="normal" text-anchor="start" fill="#1a1a1a" letter-spacing="0.2" stroke="#1a1a1a" stroke-width="0.2">10</text>
<text x="165.1" y="361.0" font-size="5.6" font-weight="normal" text-anchor="start" fill="#1a1a1a"  stroke="#1a1a1a" stroke-width="0.2">2</text>
<text x="178.0" y="364.4" font-size="8.2" font-weight="normal" text-anchor="start" fill="#1a1a1a" letter-spacing="0.2" stroke="#1a1a1a" stroke-width="0.2">10</text>
<text x="187.5" y="361.0" font-size="5.6" font-weight="normal" text-anchor="start" fill="#1a1a1a"  stroke="#1a1a1a" stroke-width="0.2">3</text>
<text x="198.2" y="364.4" font-size="8.2" font-weight="normal" text-anchor="start" fill="#1a1a1a" letter-spacing="0.2" stroke="#1a1a1a" stroke-width="0.2">10</text>
<text x="207.7" y="361.0" font-size="5.6" font-weight="normal" text-anchor="start" fill="#1a1a1a"  stroke="#1a1a1a" stroke-width="0.2">4</text>
<text x="218.4" y="364.4" font-size="8.2" font-weight="normal" text-anchor="start" fill="#1a1a1a" letter-spacing="0.2" stroke="#1a1a1a" stroke-width="0.2">10</text>
<text x="227.9" y="361.0" font-size="5.6" font-weight="normal" text-anchor="start" fill="#1a1a1a"  stroke="#1a1a1a" stroke-width="0.2">5</text>
<path d="M152.0,352.3v1.5" stroke="#555" stroke-width="0.8"/>
<path d="M160.0,352.3v1.5" stroke="#555" stroke-width="0.8"/>
<path d="M183.0,352.3v1.5" stroke="#555" stroke-width="0.8"/>
<path d="M203.0,352.3v1.5" stroke="#555" stroke-width="0.8"/>
<path d="M223.0,352.3v1.5" stroke="#555" stroke-width="0.8"/>
<rect x="235.0" y="279.3" width="9" height="8.2" fill="#f0a030" stroke="#b87818" stroke-width="0.7"/>
<rect x="244.2" y="279.5" width="8.3" height="7.6" fill="#fff" stroke="#bbb" stroke-width="0.6"/>
<path d="M244.2,283.4h8.6" stroke="#000" stroke-width="1"/>
<rect x="235.0" y="289.3" width="9" height="8.2" fill="#1c24e4" stroke="#1a2290" stroke-width="0.7"/>
<rect x="244.2" y="289.5" width="8.3" height="7.6" fill="#fff" stroke="#bbb" stroke-width="0.6"/>
<rect x="244.2" y="293.3" width="8.6" height="4.3" fill="#000"/>
<text x="254.0" y="286.6" font-size="7.8" font-weight="normal" text-anchor="start" fill="#000"  stroke="#000" stroke-width="0.2">PTL 5μM + TEM 2.5μg-mL</text>
<text x="254.0" y="296.8" font-size="8.0" font-weight="normal" text-anchor="start" fill="#000"  stroke="#000" stroke-width="0.2">Untreated</text>
<text x="0" y="0" transform="translate(31.6,391.3) scale(1.039,1)" font-size="18" fill="#000">H<tspan font-size="12" dy="4.4">2</tspan><tspan dy="-4.4">DCFDA</tspan></text>
<text x="0" y="0" transform="translate(159.8,391.8) scale(1.048,1)" font-size="18" fill="#000">mBBr</text>
<text x="0" y="0" font-size="12.3" text-anchor="middle" transform="translate(366.7,105.8) rotate(-90) scale(1,1.07)">Log<tspan font-size="8.5" dy="3.2">2</tspan><tspan dy="-3.2"> fold change</tspan></text>
<text x="448.7" y="36.9" font-size="12.7" font-weight="bold" text-anchor="middle" fill="#000" >H<tspan font-size="8.6" dy="3.4">2</tspan><tspan dy="-3.4">DCFDA</tspan></text>
<rect x="394.2" y="113.00" width="28.80" height="14.00" fill="#b4b4b7" stroke="#333" stroke-width="1.3"/>
<path d="M408.60,127.00V142.00M401.40,142.00H415.80" stroke="#333" stroke-width="1.2" fill="none"/>
<rect x="436.7" y="109.40" width="28.90" height="3.60" fill="#b4b4b7" stroke="#333" stroke-width="1.3"/>
<path d="M451.30,109.40V95.40M444.20,95.40H458.40" stroke="#333" stroke-width="1.2" fill="none"/>
<rect x="479.5" y="74.40" width="29.40" height="38.60" fill="#b4b4b7" stroke="#333" stroke-width="1.3"/>
<path d="M494.20,74.40V60.60M486.90,60.60H501.50" stroke="#333" stroke-width="1.2" fill="none"/>
<path d="M386.8,58.8V149.2" stroke="#333" stroke-width="1.2" fill="none"/>
<path d="M386.8,113.0H516.2" stroke="#444" stroke-width="1.1" fill="none"/>
<path d="M384.6,58.80H386.8" stroke="#333" stroke-width="1"/>
<text x="384.6" y="61.70" font-size="8.2" font-weight="normal" text-anchor="end" fill="#222" letter-spacing="-0.25" stroke="#222" stroke-width="0.2">0.3</text>
<path d="M384.6,76.86H386.8" stroke="#333" stroke-width="1"/>
<text x="384.6" y="79.66" font-size="8.2" font-weight="normal" text-anchor="end" fill="#222" letter-spacing="-0.25" stroke="#222" stroke-width="0.2">0.2</text>
<path d="M384.6,94.92H386.8" stroke="#333" stroke-width="1"/>
<text x="384.6" y="97.62" font-size="8.2" font-weight="normal" text-anchor="end" fill="#222" letter-spacing="-0.25" stroke="#222" stroke-width="0.2">0.1</text>
<path d="M384.6,112.98H386.8" stroke="#333" stroke-width="1"/>
<text x="384.6" y="115.58" font-size="8.2" font-weight="normal" text-anchor="end" fill="#222" letter-spacing="-0.25" stroke="#222" stroke-width="0.2">0.0</text>
<path d="M384.6,131.04H386.8" stroke="#333" stroke-width="1"/>
<text x="384.6" y="133.54" font-size="8.2" font-weight="normal" text-anchor="end" fill="#222" letter-spacing="-0.25" stroke="#222" stroke-width="0.2">-0.1</text>
<path d="M384.6,149.10H386.8" stroke="#333" stroke-width="1"/>
<text x="384.6" y="151.50" font-size="8.2" font-weight="normal" text-anchor="end" fill="#222" letter-spacing="-0.25" stroke="#222" stroke-width="0.2">-0.2</text>
<path d="M408.6,113.0v2" stroke="#333" stroke-width="1"/>
<path d="M451.2,113.0v2" stroke="#333" stroke-width="1"/>
<path d="M494.2,113.0v2" stroke="#333" stroke-width="1"/>
<text x="451.3" y="86.7" font-size="19" font-weight="bold" text-anchor="middle" fill="#000" >*</text>
<text x="407.6" y="158.1" font-size="9.6" font-weight="normal" text-anchor="middle" fill="#000"  stroke="#000" stroke-width="0.2">PTL</text>
<text x="444.2" y="158.1" font-size="9.6" font-weight="normal" text-anchor="middle" fill="#000"  stroke="#000" stroke-width="0.2">TEM</text>
<text x="495.6" y="158.1" font-size="9.6" font-weight="normal" text-anchor="middle" fill="#000"  stroke="#000" stroke-width="0.2">PTL + TEM</text>
<text x="0" y="0" font-size="12.3" text-anchor="middle" transform="translate(365.4,245.6) rotate(-90) scale(1,1.07)">Log<tspan font-size="8.5" dy="3.2">2</tspan><tspan dy="-3.2"> fold change</tspan></text>
<text x="449.9" y="193.4" font-size="13.0" font-weight="bold" text-anchor="middle" fill="#000"  textLength="43" lengthAdjust="spacingAndGlyphs">mBBR</text>
<rect x="394.2" y="223.30" width="29.20" height="67.70" fill="#fff" stroke="#333" stroke-width="1.3"/>
<path d="M408.80,291.00V291.60M398.30,291.60H419.30" stroke="#333" stroke-width="1.2" fill="none"/>
<rect x="437.6" y="220.00" width="29.40" height="3.30" fill="#fff" stroke="#333" stroke-width="1.3"/>
<path d="M452.30,220.00V213.30M444.80,213.30H459.80" stroke="#333" stroke-width="1.2" fill="none"/>
<rect x="481.0" y="223.30" width="29.30" height="68.70" fill="#fff" stroke="#333" stroke-width="1.3"/>
<path d="M495.60,292.00V295.00M488.10,295.00H503.10" stroke="#333" stroke-width="1.2" fill="none"/>
<path d="M386.40000000000003,204.9V296.9" stroke="#333" stroke-width="1.2" fill="none"/>
<path d="M386.40000000000003,223.3H517.7" stroke="#222" stroke-width="1.1" fill="none"/>
<path d="M384.40000000000003,204.90H386.40000000000003" stroke="#333" stroke-width="1"/>
<text x="384.3" y="207.90" font-size="8.2" font-weight="normal" text-anchor="end" fill="#222" letter-spacing="-0.25" stroke="#222" stroke-width="0.2">0.2</text>
<path d="M384.40000000000003,223.26H386.40000000000003" stroke="#333" stroke-width="1"/>
<text x="384.3" y="226.26" font-size="8.2" font-weight="normal" text-anchor="end" fill="#222" letter-spacing="-0.25" stroke="#222" stroke-width="0.2">0.0</text>
<path d="M384.40000000000003,241.62H386.40000000000003" stroke="#333" stroke-width="1"/>
<text x="384.3" y="244.62" font-size="8.2" font-weight="normal" text-anchor="end" fill="#222" letter-spacing="-0.25" stroke="#222" stroke-width="0.2">-0.2</text>
<path d="M384.40000000000003,259.98H386.40000000000003" stroke="#333" stroke-width="1"/>
<text x="384.3" y="262.98" font-size="8.2" font-weight="normal" text-anchor="end" fill="#222" letter-spacing="-0.25" stroke="#222" stroke-width="0.2">-0.4</text>
<path d="M384.40000000000003,278.34H386.40000000000003" stroke="#333" stroke-width="1"/>
<text x="384.3" y="281.34" font-size="8.2" font-weight="normal" text-anchor="end" fill="#222" letter-spacing="-0.25" stroke="#222" stroke-width="0.2">-0.6</text>
<path d="M384.40000000000003,296.70H386.40000000000003" stroke="#333" stroke-width="1"/>
<text x="384.3" y="299.70" font-size="8.2" font-weight="normal" text-anchor="end" fill="#222" letter-spacing="-0.25" stroke="#222" stroke-width="0.2">-0.8</text>
<path d="M408.8,223.3v2" stroke="#333" stroke-width="1"/>
<path d="M452.3,223.3v2" stroke="#333" stroke-width="1"/>
<path d="M495.6,223.3v2" stroke="#333" stroke-width="1"/>
<text x="407.6" y="311.2" font-size="9.6" font-weight="normal" text-anchor="middle" fill="#000"  stroke="#000" stroke-width="0.2">PTL</text>
<text x="443.8" y="311.2" font-size="9.6" font-weight="normal" text-anchor="middle" fill="#000"  stroke="#000" stroke-width="0.2">TEM</text>
<text x="495.8" y="311.2" font-size="9.6" font-weight="normal" text-anchor="middle" fill="#000"  stroke="#000" stroke-width="0.2">PTL + TEM</text>
</g></svg>
</body></html>
